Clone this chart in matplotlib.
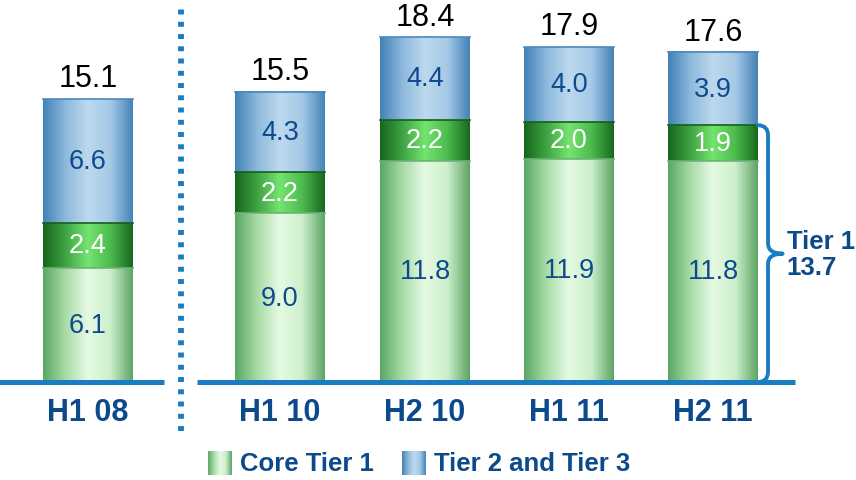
import numpy as np
import matplotlib
matplotlib.use("Agg")
import matplotlib.pyplot as plt
from matplotlib.colors import LinearSegmentedColormap
from matplotlib.path import Path
from matplotlib.patches import PathPatch

plt.rcParams['font.family'] = ['Liberation Sans', 'DejaVu Sans']

# data
periods = ["H1 08", "H1 10", "H2 10", "H1 11", "H2 11"]
core_t1 = [6.1, 9.0, 11.8, 11.9, 11.8]
other_t1 = [2.4, 2.2, 2.2, 2.0, 1.9]
tier23 = [6.6, 4.3, 4.4, 4.0, 3.9]
legend_labels = ["Core Tier 1", "Tier 2 and Tier 3"]

xpos = [0, 1.333, 2.34, 3.34, 4.34]
width = 0.625
navy = "#0D4A8C"
line_blue = "#1A7CC3"

cm_light = LinearSegmentedColormap.from_list("lg", ["#5AA864", "#A9DCA8", "#E6FAE3", "#CDEFCB", "#5CA565"])
cm_dark = LinearSegmentedColormap.from_list("dg", ["#17661C", "#3FA443", "#74E46F", "#4DBB4E", "#186A1E"])
cm_blue = LinearSegmentedColormap.from_list("bl", ["#4282B7", "#8DB9DC", "#BDD9EE", "#A5C9E6", "#4583B7"])
grad = np.linspace(0, 1, 200).reshape(1, -1)

fig = plt.figure(figsize=(8.56, 4.81), dpi=100)
ax = fig.add_axes([0, 0, 1, 1])
ax.axis("off")


def cyl(x, y0, y1, cmap, edge):
    ax.imshow(grad, extent=[x - width / 2, x + width / 2, y0, y1], aspect="auto",
              cmap=cmap, interpolation="bicubic", zorder=2)
    ax.plot([x - width / 2, x + width / 2], [y1, y1], color=edge, lw=1.2, zorder=3)


for i, p in enumerate(periods):
    x = xpos[i]
    a = core_t1[i]
    b = a + other_t1[i]
    c = b + tier23[i]
    cyl(x, 0, a, cm_light, "#6DB377")
    cyl(x, a, b, cm_dark, "#14601A")
    cyl(x, b, c, cm_blue, "#4C88BB")
    ax.text(x, a / 2, f"{core_t1[i]:.1f}", ha="center", va="center", fontsize=19.5, color=navy, zorder=4)
    ax.text(x, (a + b) / 2, f"{other_t1[i]:.1f}", ha="center", va="center", fontsize=19.5, color="white", zorder=4)
    ax.text(x, (b + c) / 2, f"{tier23[i]:.1f}", ha="center", va="center", fontsize=19.5, color=navy, zorder=4)
    ax.text(x, c + 0.3, f"{c:.1f}", ha="center", va="bottom", fontsize=22, color="black", zorder=4)
    ax.text(x, -1.58, p, ha="center", va="center", fontsize=22, fontweight="bold", color=navy)

# baselines and separator
ax.plot([-0.62, 0.528], [0, 0], color=line_blue, lw=3.6, solid_capstyle="butt", zorder=5)
ax.plot([0.757, 4.91], [0, 0], color=line_blue, lw=3.6, solid_capstyle="butt", zorder=5)
ax.plot([0.644, 0.644], [-2.6, 19.9], color=line_blue, lw=4.2, ls=(0, (0.85, 1.25)),
        dash_capstyle="butt", zorder=5)

# brace for Tier 1 of last period
t1 = core_t1[-1] + other_t1[-1]
xr = xpos[-1] + width / 2
xv, xt, m = xr + 0.07, xr + 0.17, t1 / 2
r = 0.55
verts = [(xr, t1), (xv, t1), (xv, t1 - r),
         (xv, m + r),
         (xv, m), (xt, m),
         (xt, m), (xv, m), (xv, m - r),
         (xv, r),
         (xv, 0), (xr, 0)]
codes = [Path.MOVETO, Path.CURVE3, Path.CURVE3,
         Path.LINETO,
         Path.CURVE3, Path.CURVE3,
         Path.MOVETO, Path.CURVE3, Path.CURVE3,
         Path.LINETO,
         Path.CURVE3, Path.CURVE3]
ax.add_patch(PathPatch(Path(verts, codes), fill=False, edgecolor=line_blue, lw=2.8,
                       capstyle="round", zorder=5))
ax.text(xr + 0.2, m, f"Tier 1\n{t1:.1f}", ha="left", va="center", fontsize=18.5,
        fontweight="bold", color=navy, linespacing=1.1)

# legend
for j, (lab, cm) in enumerate(zip(legend_labels, [cm_light, cm_blue])):
    lx = [0.833, 2.18][j]
    ax.imshow(grad, extent=[lx, lx + 0.16, -4.96, -3.68], aspect="auto", cmap=cm,
              interpolation="bicubic", zorder=2)
    ax.text(lx + 0.222, -4.32, lab, ha="left", va="center", fontsize=18.5,
            fontweight="bold", color=navy)

ax.set_xlim(-88 / 144, (856 - 88) / 144)
ax.set_ylim((383 - 481) / 18.74, 383 / 18.74)
fig.savefig("out.png", dpi=100)
